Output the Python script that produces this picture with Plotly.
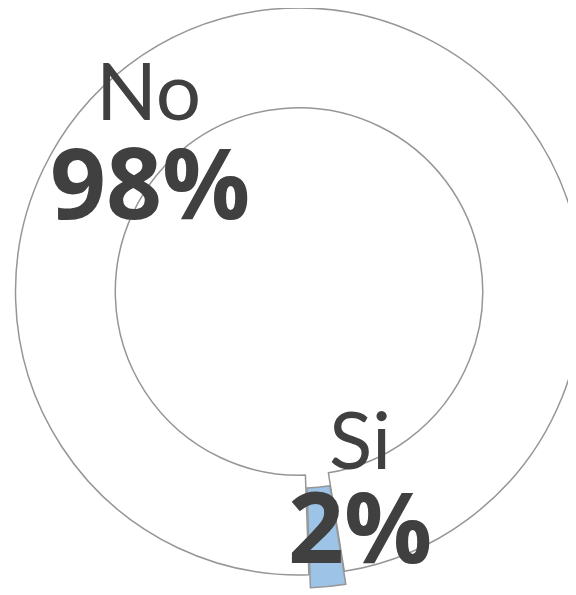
import plotly.graph_objects as go

# Survey answer share (donut)
labels = ["No", "Si"]
values = [98, 2]
colors = ["#ffffff", "#9dc3e6"]
exploded = [False, True]   # "Si" slice is pulled out of the ring

W, H = 576, 595
NONE = "rgba(0,0,0,0)"
EDGE = "#969696"

# ring geometry in px (figure coords): centre, outer radius, pull offset of the exploded slice
cx, cy, R = 291, 283.5, 283.5
pull_dx, pull_dy = 1.5, 13


def dom(x0, y0):
    return dict(x=[x0 / W, (x0 + 2 * R) / W], y=[1 - (y0 + 2 * R) / H, 1 - y0 / H])


def ring(show, x0, y0):
    fill = [c if s else NONE for c, s in zip(colors, show)]
    line = [EDGE if s else NONE for s in show]
    return go.Pie(
        labels=labels, values=values, hole=0.648, sort=False,
        direction="clockwise", rotation=178,
        marker=dict(colors=fill, line=dict(color=line, width=1.5)),
        textinfo="none", hoverinfo="label+percent",
        domain=dom(x0, y0), showlegend=False,
    )


fig = go.Figure()
fig.add_trace(ring([not e for e in exploded], cx - R, cy - R))
fig.add_trace(ring(exploded, cx - R + pull_dx, cy - R + pull_dy))

# label positions (px from top-left) for the name and the percentage
name_pos = {"No": (140.5, 81), "Si": (352, 430)}
pct_pos = {"No": (142, 173), "Si": (352, 517)}

for lab, val in zip(labels, values):
    nx, ny = name_pos[lab]
    px_, py_ = pct_pos[lab]
    fig.add_annotation(x=nx / W, y=1 - ny / H, xref="paper", yref="paper",
                       text=lab, showarrow=False, xanchor="center", yanchor="middle",
                       font=dict(family="Lato", size=80, color="#404040"))
    fig.add_annotation(x=px_ / W, y=1 - py_ / H, xref="paper", yref="paper",
                       text=f"{val}%", showarrow=False, xanchor="center", yanchor="middle",
                       font=dict(family="Open Sans", size=98, color="#404040", weight="bold"))

fig.update_layout(
    width=W, height=H,
    margin=dict(l=0, r=0, t=0, b=0),
    paper_bgcolor="white",
    plot_bgcolor="white",
)

fig.write_html("out.html")
